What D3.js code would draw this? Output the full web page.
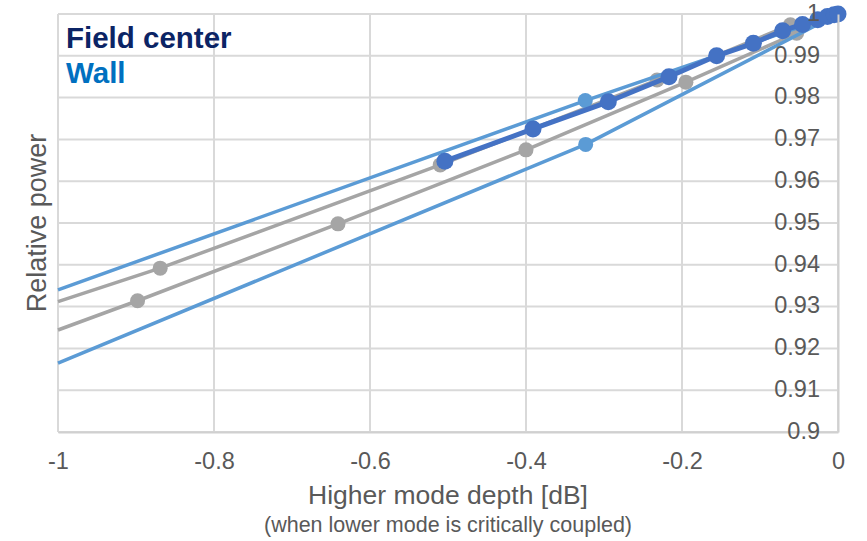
<!DOCTYPE html>
<html><head><meta charset="utf-8">
<script src="https://cdn.jsdelivr.net/npm/d3@7/dist/d3.min.js"></script>
<style>
body{margin:0;background:#fff;}
text{font-family:"Liberation Sans",Arial,sans-serif;}
</style>
</head><body>
<svg id="chart" width="867" height="541"></svg>
<script>
// ---- data ----
const xTicks = [-1, -0.8, -0.6, -0.4, -0.2, 0];
const xTickLabels = ["-1", "-0.8", "-0.6", "-0.4", "-0.2", "0"];
const yTicks = [0.9, 0.91, 0.92, 0.93, 0.94, 0.95, 0.96, 0.97, 0.98, 0.99, 1];
const yTickLabels = ["0.9", "0.91", "0.92", "0.93", "0.94", "0.95", "0.96", "0.97", "0.98", "0.99", "1"];

const grayUpperX = [-1, -0.869, -0.51, -0.232, -0.061, 0];
const grayUpperY = [0.9312, 0.9392, 0.9639, 0.9842, 0.9974, 1.0];
const grayLowerX = [-1, -0.898, -0.641, -0.4, -0.195, -0.053, 0];
const grayLowerY = [0.9244, 0.9314, 0.9498, 0.9675, 0.9837, 0.9954, 1.0];
const wallUpperX = [-1, -0.324, 0];
const wallUpperY = [0.9340, 0.9793, 1.0];
const wallLowerX = [-1, -0.3235, 0];
const wallLowerY = [0.9165, 0.9688, 1.0];
const centerX = [-0.504, -0.391, -0.2945, -0.2167, -0.1556, -0.1085, -0.071, -0.0455, -0.026, -0.0135, -0.005, 0];
const centerY = [0.9648, 0.9725, 0.9790, 0.9850, 0.9900, 0.9930, 0.9960, 0.9975, 0.9986, 0.9994, 0.9998, 1.0];

const legendLabels = ["Field center", "Wall"];
const xTitle = "Higher mode depth [dB]";
const xSubtitle = "(when lower mode is critically coupled)";
const yTitle = "Relative power";

// ---- layout ----
const svg = d3.select("#chart");
const pLeft = 58, pRight = 838, pTop = 14, pBottom = 432;
const x = d3.scaleLinear().domain([-1, 0]).range([pLeft, pRight]);
const y = d3.scaleLinear().domain([0.9, 1]).range([pBottom, pTop]);

// gridlines
const grid = svg.append("g");
grid.selectAll("line.h").data(yTicks).enter().append("line")
  .attr("x1", pLeft).attr("x2", pRight)
  .attr("y1", d => y(d)).attr("y2", d => y(d))
  .attr("stroke", "#D9D9D9").attr("stroke-width", 2);
grid.selectAll("line.v").data(xTicks).enter().append("line")
  .attr("y1", pTop).attr("y2", pBottom)
  .attr("x1", d => x(d)).attr("x2", d => x(d))
  .attr("stroke", "#D9D9D9").attr("stroke-width", 2);

// axes lines (bottom at y=0.9, vertical at x=0)
const xAxis = d3.axisBottom(x).tickValues(xTicks).tickSize(0).tickFormat((d, i) => xTickLabels[i]);
const gx = svg.append("g").attr("transform", `translate(0,${pBottom})`).call(xAxis);
gx.select(".domain").attr("stroke", "#D0D0D0").attr("stroke-width", 2);
gx.selectAll("text").attr("font-size", 23.5).attr("fill", "#595959").attr("dy", null).attr("y", 31)
  .attr("dominant-baseline", "middle");

// series
const series = [
  {xs: grayUpperX, ys: grayUpperY, color: "#A5A5A5", w: 3.5, r: 7.5},
  {xs: grayLowerX, ys: grayLowerY, color: "#A5A5A5", w: 3.5, r: 7.5},
  {xs: wallUpperX, ys: wallUpperY, color: "#5B9BD5", w: 3.5, r: 7.5},
  {xs: wallLowerX, ys: wallLowerY, color: "#5B9BD5", w: 3.5, r: 7.5},
  {xs: centerX, ys: centerY, color: "#4472C4", w: 5, r: 8.5, all: true}
];
const line = d3.line().x(d => x(d[0])).y(d => y(d[1]));
series.forEach(s => {
  const pts = s.xs.map((v, i) => [v, s.ys[i]]);
  svg.append("path").datum(pts).attr("d", line)
    .attr("fill", "none").attr("stroke", s.color).attr("stroke-width", s.w)
    .attr("stroke-linejoin", "round");
  const mk = pts.filter(p => s.all || (p[0] > -1 && p[0] < 0));
  svg.append("g").selectAll("circle").data(mk).enter().append("circle")
    .attr("cx", d => x(d[0])).attr("cy", d => y(d[1])).attr("r", s.r)
    .attr("fill", s.color);
});

// vertical axis at x = 0 with labels on its left
const yAxis = d3.axisLeft(y).tickValues(yTicks).tickSize(0).tickFormat((d, i) => yTickLabels[i]);
const gy = svg.append("g").attr("transform", `translate(${pRight},0)`).call(yAxis);
gy.select(".domain").attr("stroke", "#D0D0D0").attr("stroke-width", 2);
gy.selectAll("text").attr("font-size", 23.5).attr("fill", "#595959").attr("x", -18)
  .attr("dy", null).attr("dominant-baseline", "middle");

// titles
svg.append("text").attr("x", 448).attr("y", 497).attr("text-anchor", "middle")
  .attr("dominant-baseline", "middle").attr("font-size", 26.5).attr("fill", "#595959").text(xTitle);
svg.append("text").attr("x", 448).attr("y", 526).attr("text-anchor", "middle")
  .attr("dominant-baseline", "middle").attr("font-size", 21.5).attr("fill", "#595959").text(xSubtitle);
svg.append("text").attr("transform", "translate(39,223) rotate(-90)").attr("text-anchor", "middle")
  .attr("dominant-baseline", "middle").attr("font-size", 27).attr("fill", "#595959").text(yTitle);

// legend texts
svg.append("text").attr("x", 66).attr("y", 48).attr("font-size", 29.5).attr("font-weight", "bold")
  .attr("fill", "#0B2465").text(legendLabels[0]);
svg.append("text").attr("x", 66).attr("y", 83).attr("font-size", 29.5).attr("font-weight", "bold")
  .attr("fill", "#0070C0").text(legendLabels[1]);
</script>
</body></html>
